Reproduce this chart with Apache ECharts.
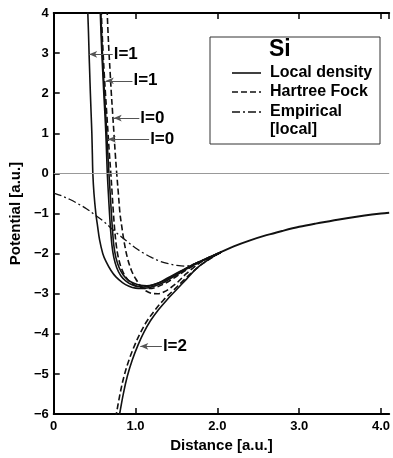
<!DOCTYPE html>
<html>
<head>
<meta charset="utf-8">
<script src="https://cdn.jsdelivr.net/npm/echarts@6/dist/echarts.min.js"></script>
<style>
html,body{margin:0;padding:0;background:#fff;overflow:hidden;}
#chart{width:393px;height:458px;}
</style>
</head>
<body>
<div id="chart"></div>
<script>
// ---- Data ----
var xTicks = [0, 1, 2, 3, 4];
var yTicks = [-6, -5, -4, -3, -2, -1, 0, 1, 2, 3, 4];

// Local density, l=1 (leftmost solid)
var ldL1a = [[0.415,4.1],[0.425,3.5],[0.432,3],[0.44,2.5],[0.448,2],[0.457,1.5],[0.466,1],[0.472,0.5],[0.478,0],[0.492,-0.5],[0.515,-1],[0.535,-1.3],[0.56,-1.65],[0.6,-2.0],[0.64,-2.2],[0.7,-2.42],[0.76,-2.58],[0.84,-2.72],[0.92,-2.81],[1.0,-2.86],[1.08,-2.87],[1.16,-2.85],[1.26,-2.79],[1.36,-2.7],[1.46,-2.58],[1.56,-2.46],[1.66,-2.34],[1.76,-2.24],[1.86,-2.14],[1.96,-2.05],[2.05,-1.96]];
// Local density, l=0 (solid)
var ldL0 = [[0.568,4.1],[0.578,3.5],[0.588,3],[0.6,2.5],[0.612,2],[0.625,1.5],[0.637,1],[0.646,0.5],[0.655,0],[0.668,-0.5],[0.682,-1],[0.695,-1.4],[0.712,-1.8],[0.735,-2.1],[0.77,-2.35],[0.82,-2.55],[0.88,-2.68],[0.95,-2.77],[1.03,-2.82],[1.1,-2.83],[1.18,-2.8],[1.28,-2.73],[1.38,-2.62],[1.5,-2.49],[1.62,-2.36],[1.74,-2.24],[1.86,-2.13],[1.98,-2.03],[2.05,-1.96]];
// Local density, second l=1 branch (solid)
var ldL1b = [[0.575,4.1],[0.585,3.5],[0.595,3],[0.607,2.5],[0.62,2],[0.634,1.5],[0.648,1],[0.661,0.5],[0.675,0],[0.69,-0.5],[0.705,-1],[0.718,-1.4],[0.735,-1.8],[0.76,-2.1],[0.8,-2.35],[0.85,-2.53],[0.91,-2.66],[0.98,-2.74],[1.06,-2.79],[1.14,-2.8],[1.22,-2.77],[1.32,-2.7],[1.42,-2.6],[1.54,-2.46],[1.66,-2.32],[1.78,-2.2],[1.9,-2.09],[2.05,-1.96]];
// Hartree Fock, l=1 (dashed)
var hfL1 = [[0.58,4.1],[0.592,3.5],[0.604,3],[0.617,2.5],[0.632,2],[0.648,1.5],[0.664,1],[0.68,0.5],[0.698,0],[0.714,-0.5],[0.73,-1],[0.745,-1.4],[0.765,-1.8],[0.79,-2.1],[0.83,-2.38],[0.88,-2.58],[0.94,-2.72],[1.01,-2.81],[1.09,-2.86],[1.17,-2.87],[1.26,-2.83],[1.36,-2.74],[1.46,-2.62],[1.58,-2.46],[1.7,-2.31],[1.82,-2.18],[1.94,-2.07],[2.05,-1.96]];
// Hartree Fock, l=0 (dashed, rightmost)
var hfL0 = [[0.652,4.1],[0.664,3.5],[0.676,3],[0.69,2.5],[0.704,2],[0.72,1.5],[0.736,1],[0.752,0.5],[0.77,0],[0.79,-0.5],[0.81,-1],[0.83,-1.3],[0.86,-1.7],[0.9,-2.1],[0.95,-2.42],[1.0,-2.62],[1.06,-2.8],[1.13,-2.93],[1.2,-2.99],[1.27,-3.0],[1.35,-2.95],[1.43,-2.85],[1.52,-2.7],[1.62,-2.5],[1.74,-2.3],[1.86,-2.13],[1.98,-2.02],[2.05,-1.96]];
// Local density, l=2 (solid)
var ldL2 = [[0.797,-6.1],[0.85,-5.5],[0.9,-5.05],[0.96,-4.65],[1.03,-4.28],[1.1,-3.97],[1.18,-3.68],[1.28,-3.4],[1.38,-3.16],[1.5,-2.9],[1.62,-2.64],[1.74,-2.38],[1.86,-2.19],[1.96,-2.06],[2.05,-1.96]];
// Hartree Fock, l=2 (dashed)
var hfL2 = [[0.757,-6.1],[0.81,-5.5],[0.86,-5.05],[0.92,-4.65],[0.99,-4.28],[1.06,-3.97],[1.14,-3.68],[1.24,-3.4],[1.34,-3.16],[1.46,-2.92],[1.58,-2.68],[1.7,-2.45],[1.82,-2.25],[1.94,-2.09],[2.05,-1.96]];
// Empirical (local), dash-dot
var empLocal = [[0,-0.49],[0.1,-0.56],[0.2,-0.65],[0.3,-0.76],[0.4,-0.88],[0.5,-1.03],[0.6,-1.18],[0.75,-1.45],[0.9,-1.7],[1.0,-1.86],[1.1,-1.99],[1.2,-2.1],[1.3,-2.19],[1.4,-2.25],[1.5,-2.29],[1.6,-2.31],[1.7,-2.27],[1.8,-2.18],[1.9,-2.1],[2.0,-2.03]];
// Common tail of all potentials
var tail = [[1.9,-2.1],[2.0,-2.0],[2.2,-1.82],[2.4,-1.67],[2.6,-1.54],[2.8,-1.43],[3.0,-1.33],[3.2,-1.25],[3.4,-1.18],[3.6,-1.11],[3.8,-1.05],[4.0,-1.0],[4.1,-0.98]];

// Annotation arrows: [tipX, y, tailX, label]
var arrows = [[0.433,2.97,0.721,'l=1'],[0.637,2.31,0.962,'l=1'],[0.733,1.38,1.046,'l=0'],[0.661,0.85,1.166,'l=0'],[1.058,-4.31,1.322,'l=2']];

var legendTitle = 'Si';
var legendNames = ['Local density', 'Hartree Fock', 'Empirical', '[local]'];

// ---- Chart ----
var FF = '"Liberation Sans", Arial, Helvetica, sans-serif';
var chart = echarts.init(document.getElementById('chart'), null, {renderer:'canvas'});

function lineSeries(data, type, width) {
  return {
    type: 'line', data: data, showSymbol: false, symbol: 'none', smooth: 0.35,
    silent: true, animation: false, clip: true,
    lineStyle: {color: '#111', width: width || 1.6, type: type}
  };
}
var dashed = [6, 3];
var dashDot = [8, 3, 2, 3];

var series = [
  lineSeries(ldL1a, 'solid'),
  lineSeries(ldL0, 'solid'),
  lineSeries(ldL1b, 'solid'),
  lineSeries(hfL1, dashed),
  lineSeries(hfL0, dashed),
  lineSeries(ldL2, 'solid'),
  lineSeries(hfL2, dashed),
  lineSeries(empLocal, dashDot, 1.3),
  lineSeries(tail, 'solid', 1.9)
];
// zero line
series[8].markLine = {
  silent: true, symbol: 'none', animation: false,
  label: {show: false},
  lineStyle: {color: '#999', width: 1, type: 'solid'},
  data: [{yAxis: 0}]
};
// annotation arrows
series.push({
  type: 'line', data: [], silent: true, animation: false,
  markLine: {
    silent: true, animation: false,
    symbol: ['arrow', 'none'], symbolSize: [5, 8],
    lineStyle: {color: '#555', width: 1, type: 'solid'},
    label: {show: true, position: 'end', distance: 1, color: '#000',
            fontFamily: FF, fontWeight: 'bold', fontSize: 17},
    data: arrows.map(function (a) {
      return [{coord: [a[0], a[1]]}, {coord: [a[2], a[1]], label: {formatter: a[3]}}];
    })
  }
});

function xFmt(v) {
  if (xTicks.indexOf(v) < 0) return '';
  return v === 0 ? '0' : v.toFixed(1);
}
function yFmt(v) {
  if (yTicks.indexOf(v) < 0) return '';
  return v < 0 ? '\u2212' + Math.abs(v) : String(v);
}

var axisLabelStyle = {color: '#000', fontFamily: FF, fontWeight: 'bold', fontSize: 13};

chart.setOption({
  backgroundColor: '#fff',
  animation: false,
  grid: {left: 52, right: 0, top: 13, bottom: 35, containLabel: false},
  xAxis: [{
    type: 'value', min: 0, max: 4.1, interval: 1, position: 'bottom',
    axisLine: {onZero: false, lineStyle: {color: '#000', width: 2}},
    axisTick: {inside: true, length: 6, lineStyle: {color: '#000', width: 1.5}},
    axisLabel: Object.assign({formatter: xFmt, margin: 6, showMaxLabel: false}, axisLabelStyle),
    splitLine: {show: false},
    name: 'Distance [a.u.]', nameLocation: 'middle', nameGap: 23,
    nameTextStyle: {color: '#000', fontFamily: FF, fontWeight: 'bold', fontSize: 15}
  }, {
    type: 'value', min: 0, max: 4.1, interval: 1, position: 'top',
    axisLine: {onZero: false, lineStyle: {color: '#000', width: 2}},
    axisTick: {inside: true, length: 6, lineStyle: {color: '#000', width: 1.5}},
    axisLabel: {show: false},
    splitLine: {show: false}
  }],
  yAxis: {
    type: 'value', min: -6, max: 4, interval: 1,
    axisLine: {show: true, onZero: false, lineStyle: {color: '#000', width: 2}},
    axisTick: {show: true, inside: true, length: 6, lineStyle: {color: '#000', width: 1.5}},
    axisLabel: Object.assign({formatter: yFmt, margin: 5}, axisLabelStyle),
    splitLine: {show: false},
    name: 'Potential [a.u.]', nameLocation: 'middle', nameGap: 25,
    nameTextStyle: {color: '#000', fontFamily: FF, fontWeight: 'bold', fontSize: 15}
  },
  series: series,
  graphic: [
    {type: 'rect', shape: {x: 210, y: 37, width: 170, height: 107},
     style: {fill: '#fff', stroke: '#333', lineWidth: 1}, z: 10},
    {type: 'text', x: 269, y: 38, z: 11,
     style: {text: legendTitle, font: 'bold 23px ' + FF, fill: '#000'}},
    {type: 'line', shape: {x1: 232, y1: 73, x2: 261, y2: 73}, z: 11,
     style: {stroke: '#111', lineWidth: 1.6}},
    {type: 'line', shape: {x1: 232, y1: 92, x2: 261, y2: 92}, z: 11,
     style: {stroke: '#111', lineWidth: 1.6, lineDash: dashed}},
    {type: 'line', shape: {x1: 232, y1: 112, x2: 261, y2: 112}, z: 11,
     style: {stroke: '#111', lineWidth: 1.6, lineDash: dashDot}},
    {type: 'text', x: 270, y: 73, z: 11,
     style: {text: legendNames[0], font: 'bold 16px ' + FF, fill: '#000', verticalAlign: 'middle'}},
    {type: 'text', x: 270, y: 92, z: 11,
     style: {text: legendNames[1], font: 'bold 16px ' + FF, fill: '#000', verticalAlign: 'middle'}},
    {type: 'text', x: 270, y: 112, z: 11,
     style: {text: legendNames[2], font: 'bold 16px ' + FF, fill: '#000', verticalAlign: 'middle'}},
    {type: 'text', x: 270, y: 130, z: 11,
     style: {text: legendNames[3], font: 'bold 16px ' + FF, fill: '#000', verticalAlign: 'middle'}}
  ]
});
</script>
</body>
</html>
